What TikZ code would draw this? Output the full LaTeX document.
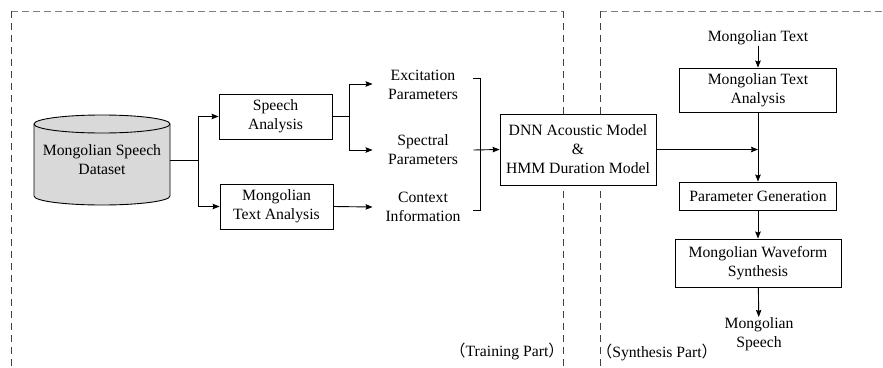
\documentclass[tikz,border=0pt]{standalone}
\usepackage{fontspec}
\setmainfont{Liberation Serif}
\newfontfamily\cjk{Noto Sans CJK SC}
\usetikzlibrary{positioning,arrows.meta}
\definecolor{dbgray}{gray}{0.85}
\definecolor{framegray}{gray}{0.5}
\tikzset{
  block/.style = {draw, fill=white, align=center, inner sep=0pt},
  lbl/.style = {align=center, inner sep=0pt},
  frame/.style = {framegray, dash pattern=on 7pt off 4pt},
  vframe/.style = {black!75, dash pattern=on 7pt off 5pt}
}
\begin{document}
\begin{tikzpicture}[>={Stealth[length=7pt,width=5.5pt,inset=1pt]}, x=1pt, y=-1pt, line width=0.9pt, font=\fontsize{15.7}{19}\selectfont]
\useasboundingbox (0,0) rectangle (883,367);

\draw[frame] (11,11) -- (563,11);
\draw[vframe] (11,11) -- (11,367);
\draw[vframe] (563,11) -- (563,367);
\draw[frame] (600,11) -- (883,11);
\draw[vframe] (600,11) -- (600,367);

\draw[fill=dbgray] (34,124) -- (34,196) arc[start angle=180, end angle=0, x radius=68, y radius=9]
  -- (170,124) arc[start angle=0, end angle=-180, x radius=68, y radius=9] -- cycle;
\draw (34,124) arc[start angle=180, end angle=0, x radius=68, y radius=9];
\node[lbl, minimum width=136, minimum height=89] (db) at (102,160) {Mongolian Speech\\Dataset};

\node[block, minimum width=113, minimum height=45] (sa) at (275.5,116.5) {Speech\\Analysis};
\node[block, minimum width=113, minimum height=45] (ta) at (276.5,206.5) {Mongolian\\Text Analysis};

\node[lbl, minimum width=100] (ep) at (423,84.5) {Excitation\\Parameters};
\node[lbl, minimum width=100] (sp) at (423,150) {Spectral\\Parameters};
\node[lbl, minimum width=100] (ci) at (423,207) {Context\\Information};

\node[block, minimum width=156, minimum height=71] (dnn) at (578,149.5) {DNN Acoustic Model\\\&\\HMM Duration Model};

\node[lbl] (mt) at (758,38) {Mongolian Text};
\node[block, minimum width=157, minimum height=44] (mta) at (758,90) {Mongolian Text\\Analysis};
\node[block, minimum width=157, minimum height=28] (pg) at (758,196) {Parameter Generation};
\node[block, minimum width=166, minimum height=48] (mws) at (758,263) {Mongolian Waveform\\Synthesis};
\node[lbl] (ms) at (759,334) {Mongolian\\Speech};

\node[lbl] (train) at (507,351) {{\cjk （}Training Part{\cjk ）}};
\node[lbl] (syn) at (657,352) {{\cjk （}Synthesis Part{\cjk ）}};

\coordinate (split1) at (198,160);
\coordinate (split2) at (349,116.5);
\coordinate (join) at (480,150);

\draw (db.east) -- (split1);
\draw[->] (split1) |- (sa.west);
\draw[->] (split1) |- (ta.west);
\draw (sa.east) -- (split2);
\draw[->] (split2) |- ([yshift=0.5pt]ep.west);
\draw[->] (split2) |- (sp.west);
\draw[->] (ta.east) -- (ci.west);
\draw ([yshift=6pt]ep.east) -| (join);
\draw ([yshift=-3pt]ci.east) -| (join);
\draw[->] (sp.east) -- (dnn.west);
\draw[->] (dnn.east) -- (dnn.east -| mta.south);
\draw[->] (mt) -- (mta);
\draw[->] (mta) -- (pg);
\draw[->] (pg) -- (mws);
\draw[->] (mws) -- (ms);
\end{tikzpicture}
\end{document}
